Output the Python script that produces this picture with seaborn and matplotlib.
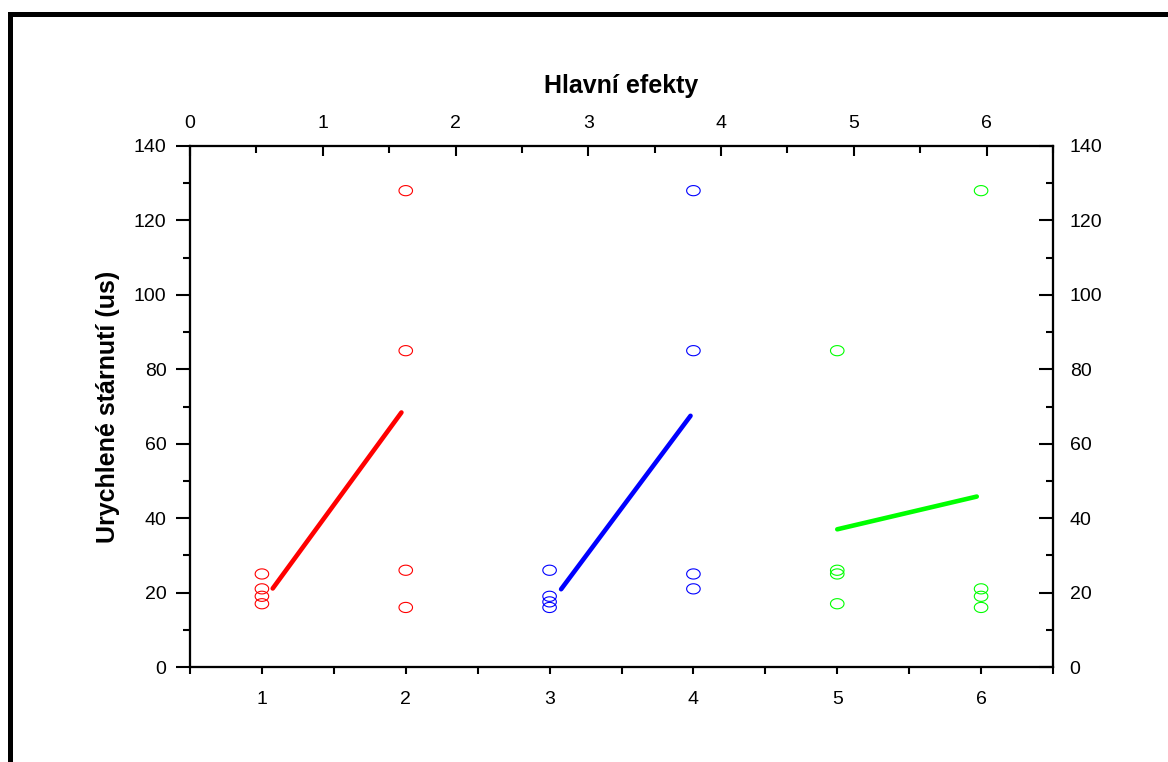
import numpy as np
import pandas as pd
import seaborn as sns
import matplotlib.pyplot as plt
from matplotlib.path import Path
from matplotlib.patches import Rectangle
from matplotlib.ticker import MultipleLocator

# factor levels (bottom axis positions) and observed responses
levels = [1, 2, 3, 4, 5, 6]
factor_colors = ['#ff0000', '#0000ff', '#00ff00']
responses = {
    1: [25, 21, 19, 17],
    2: [128, 85, 26, 16],
    3: [26, 19, 17.5, 16],
    4: [128, 85, 25, 21],
    5: [85, 26, 25, 17],
    6: [128, 21, 19, 16],
}
# main-effect lines (start / end of each segment)
effect_x = [[1.075, 1.97], [3.08, 3.98], [5.0, 5.97]]
effect_y = [[21.1, 68.4], [20.9, 67.5], [37.0, 45.8]]

title = 'Hlavní efekty'
ylabel = 'Urychlené stárnutí (us)'

sns.set_style('white')
plt.rcParams['font.family'] = ['Liberation Sans', 'DejaVu Sans']
plt.rcParams.update({'axes.linewidth': 1.5, 'text.color': 'black',
                     'axes.labelcolor': 'black', 'xtick.color': 'black',
                     'ytick.color': 'black'})

fig = plt.figure(figsize=(11.68, 7.62), dpi=100)
ax = fig.add_axes([190 / 1168, 1 - 667 / 762, 863 / 1168, 521 / 762])

# ellipse marker (wider than tall)
t = np.linspace(0, 2 * np.pi, 60)
ellipse = Path(np.column_stack([np.cos(t), 0.75 * np.sin(t)]), closed=True)

rows = []
for i, lv in enumerate(levels):
    for v in responses[lv]:
        rows.append({'x': lv, 'y': v, 'c': factor_colors[i // 2]})
df = pd.DataFrame(rows)

for col in factor_colors:
    sub = df[df['c'] == col]
    sns.scatterplot(data=sub, x='x', y='y', ax=ax, marker=ellipse, s=95,
                    facecolor='none', edgecolor=col, linewidth=0.8, zorder=3)

for xs, ys, col in zip(effect_x, effect_y, factor_colors):
    sns.lineplot(x=xs, y=ys, ax=ax, color=col, linewidth=3.3,
                 solid_capstyle='round', zorder=4)

ax.set_xlim(0.5, 6.5)
ax.set_ylim(0, 140)
ax.set_xticks(levels)
ax.xaxis.set_minor_locator(MultipleLocator(0.5))
ax.yaxis.set_major_locator(MultipleLocator(20))
ax.yaxis.set_minor_locator(MultipleLocator(10))
ax.set_xlabel('')
ax.set_ylabel(ylabel, fontsize=18, fontweight='bold', labelpad=10)
ax.tick_params(axis='x', which='both', direction='out', length=5, width=1.5,
               labelsize=14, pad=12)
ax.tick_params(axis='y', which='major', direction='out', length=10, width=1.5,
               labelsize=14, pad=7)
ax.tick_params(axis='y', which='minor', direction='out', length=5, width=1.5)

# top axis
axt = ax.twiny()
axt.set_xlim(0, 6.5)
axt.set_xticks(range(7))
axt.xaxis.set_minor_locator(MultipleLocator(0.5))
axt.tick_params(axis='x', which='major', direction='in', length=7, width=1.5,
                labelsize=14, pad=10)
axt.tick_params(axis='x', which='minor', direction='in', length=5, width=1.5)
axt.set_title(title, fontsize=18, fontweight='bold', pad=38)

# right axis
axr = ax.twinx()
axr.set_ylim(0, 140)
axr.yaxis.set_major_locator(MultipleLocator(20))
axr.yaxis.set_minor_locator(MultipleLocator(10))
axr.tick_params(axis='y', which='major', direction='in', length=10, width=1.5,
                labelsize=14, pad=12)
axr.tick_params(axis='y', which='minor', direction='in', length=5, width=1.5)

for a in (ax, axt, axr):
    for s in a.spines.values():
        s.set_linewidth(1.5)
        s.set_color('black')

# outer frame (runs off the right and bottom edges)
fig.patches.append(Rectangle((9.5 / 1168, -0.1), 1.2, 1.1 - 13.5 / 762,
                             transform=fig.transFigure, fill=False,
                             edgecolor='black', linewidth=3.6, clip_on=False))

plt.savefig('out.png', dpi=100)
